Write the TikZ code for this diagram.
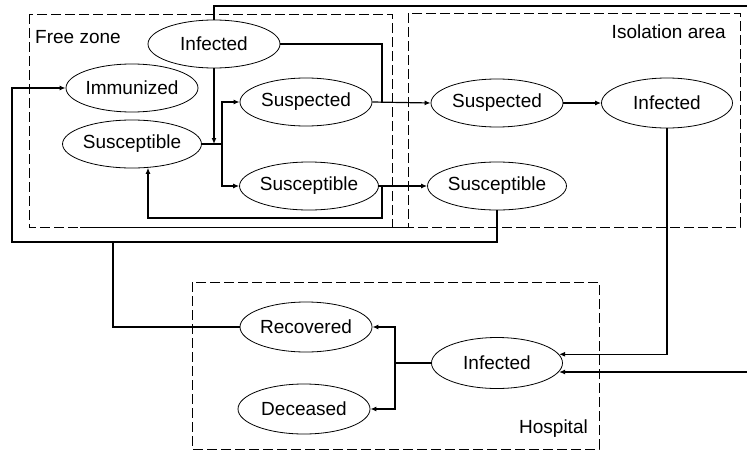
\documentclass[tikz,border=0pt]{standalone}
\usepackage{fontspec}
\setmainfont{Liberation Sans}
\usetikzlibrary{shapes.geometric,arrows.meta}
\begin{document}
\begin{tikzpicture}[x=1pt,y=-1pt,
  st/.style={ellipse,draw,line width=0.8pt,inner sep=0pt,minimum width=132pt,minimum height=48pt,font=\fontsize{19}{21}\selectfont},
  zone/.style={draw,line width=0.9pt,dash pattern=on 10pt off 4pt},
  lbl/.style={font=\fontsize{19}{21}\selectfont,inner sep=0pt},
  con/.style={line width=1.2pt},
  arr/.style={con,-{Latex[length=6pt,width=5pt]}}]
\useasboundingbox (0,0) rectangle (747,450);

% zones
\draw[zone] (29,14) rectangle (392,227);
\draw[zone] (408,13) rectangle (740,227);
\draw[zone] (192,282) rectangle (599,449);
\draw[line width=0.9pt] (80,227) -- (408,227);
\node[lbl,anchor=west] (lfz) at (35,37) {Free zone};
\node[lbl,anchor=east] (liso) at (726,32) {Isolation area};
\node[lbl,anchor=base east] (lhos) at (588,433) {Hospital};

% states
\node[st] (inf1) at (214,44) {Infected};
\node[st] (imm) at (132,88) {Immunized};
\node[st] (sus1) at (306,102) {Suspected};
\node[st] (susc1) at (132,144) {Susceptible};
\node[st] (susc2) at (309,186) {Susceptible};
\node[st] (sus2) at (497,103) {Suspected};
\node[st,minimum width=131pt,minimum height=50pt] (inf2) at (667,103) {Infected};
\node[st] (susc3) at (497,186) {Susceptible};
\node[st,minimum height=50pt] (rec) at (306,327) {Recovered};
\node[st,minimum height=50pt] (dec) at (304,409) {Deceased};
\node[st,minimum width=131pt,minimum height=51pt] (inf3) at (497,363) {Infected};

% junctions and free ends
\coordinate (topR) at (747,6);
\coordinate (rightIn) at (747,372);
\coordinate (j1) at (222,144);
\coordinate (j2) at (382,102);
\coordinate (j3) at (382,186);
\coordinate (lp) at (148,218);
\coordinate (oL) at (12,242);
\coordinate (j4) at (113,242);
\coordinate (j5) at (395,363);

% free zone
\draw[con] (inf1.north) |- (topR);
\draw[con] (susc1.east) -- (j1);
\draw[arr] (inf1.south) -- (inf1.south |- susc1.east);
\draw[arr] (j1) |- (sus1.west);
\draw[arr] (j1) |- (susc2.west);
\draw[con] (inf1.east) -| (j2);
\draw[arr] (sus1.east) -- (sus2.west);
\draw[arr] (susc2.east) -- (susc3.west);
\draw[arr] (j3) |- (lp) -- (lp |- susc1.-56);

% isolation
\draw[arr] (sus2.east) -- (inf2.west);
\draw[arr] (susc3.south) |- (oL) |- (imm.west);
\draw[con] (rec.west) -| (j4);
\draw[arr] (inf2.south) |- (inf3.8);
\draw[arr] (rightIn) -- (inf3.-8 |- rightIn);

% hospital
\draw[con] (inf3.west) -- (j5);
\draw[arr] (j5) |- (rec.east);
\draw[arr] (j5) |- (dec.east);
\end{tikzpicture}
\end{document}
